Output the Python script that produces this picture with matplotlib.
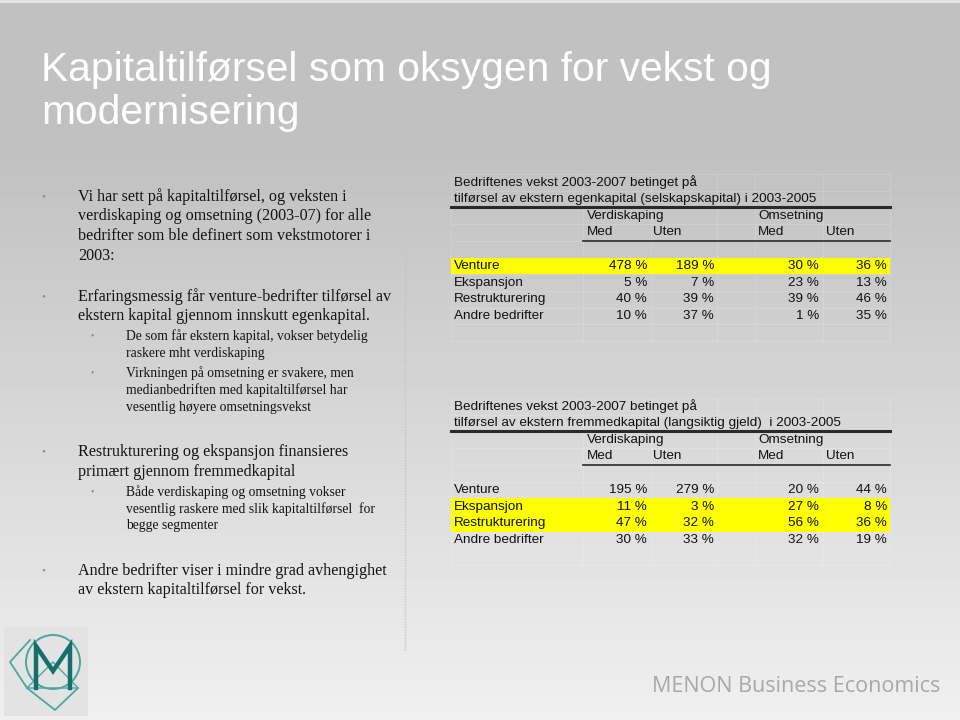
import numpy as np
import matplotlib.pyplot as plt
from matplotlib.patches import Rectangle, Circle

# slide text
title_lines = ["Kapitaltilførsel som oksygen for vekst og", "modernisering"]

bullets = [
    (0, ["Vi har sett på kapitaltilførsel, og veksten i",
         "verdiskaping og omsetning (2003-07) for alle",
         "bedrifter som ble definert som vekstmotorer i",
         "2003:"], 197),
    (0, ["Erfaringsmessig får venture-bedrifter tilførsel av",
         "ekstern kapital gjennom innskutt egenkapital."], 297),
    (1, ["De som får ekstern kapital, vokser betydelig",
         "raskere mht verdiskaping"], 336),
    (1, ["Virkningen på omsetning er svakere, men",
         "medianbedriften med kapitaltilførsel har",
         "vesentlig høyere omsetningsvekst"], 373),
    (0, ["Restrukturering og ekspansjon finansieres",
         "primært gjennom fremmedkapital"], 452),
    (1, ["Både verdiskaping og omsetning vokser",
         "vesentlig raskere med slik kapitaltilførsel  for",
         "begge segmenter"], 492),
    (0, ["Andre bedrifter viser i mindre grad avhengighet",
         "av ekstern kapitaltilførsel for vekst."], 571),
]

# table data
categories = ["Venture", "Ekspansjon", "Restrukturering", "Andre bedrifter"]

egen_title = ["Bedriftenes vekst 2003-2007 betinget på",
              "tilførsel av ekstern egenkapital (selskapskapital) i 2003-2005"]
egen_verdi_med = [478, 5, 40, 10]
egen_verdi_uten = [189, 7, 39, 37]
egen_oms_med = [30, 23, 39, 1]
egen_oms_uten = [36, 13, 46, 35]
egen_highlight = [0]

gjeld_title = ["Bedriftenes vekst 2003-2007 betinget på",
               "tilførsel av ekstern fremmedkapital (langsiktig gjeld)  i 2003-2005"]
gjeld_verdi_med = [195, 11, 47, 30]
gjeld_verdi_uten = [279, 3, 32, 33]
gjeld_oms_med = [20, 27, 56, 32]
gjeld_oms_uten = [44, 8, 36, 19]
gjeld_highlight = [1, 2]

fig = plt.figure(figsize=(9.6, 7.2), dpi=100)
ax = fig.add_axes([0, 0, 1, 1])
ax.set_xlim(0, 960)
ax.set_ylim(720, 0)
ax.axis('off')

# background gradient
g = np.concatenate([np.full(150, 0.755), np.linspace(0.755, 0.94, 570)])
ax.imshow(g[:, None], cmap='gray', vmin=0, vmax=1, extent=(0, 960, 720, 0),
          aspect='auto', zorder=0)
ax.axhline(1, color='#e8e8e8', lw=2, zorder=1)

# title
for i, line in enumerate(title_lines):
    ax.text(41, 70 + 43 * i, line, color='white', fontsize=29.3,
            family='Liberation Sans', va='center', ha='left')

# left column bullets
serif = 'Liberation Serif'
for level, lines, y0 in bullets:
    if level == 0:
        bx, tx, fs, dy = 43, 78, 11.6, 19.5
    else:
        bx, tx, fs, dy = 92, 126, 9.85, 17
    ax.text(bx, y0, "•", color='#8c8c8c', fontsize=fs * 0.7, family=serif,
            va='center', ha='center')
    for j, line in enumerate(lines):
        ax.text(tx, y0 + dy * j, line, color='#141414', fontsize=fs,
                family=serif, va='center', ha='left')

# dotted divider
ax.plot([405, 405], [215, 650], color='#c4c4c4', lw=1, ls=(0, (1, 1)), zorder=1)

# tables
col_lines = [451, 583, 651, 717, 755, 823, 890]
val_right = [647, 714, 819, 887]
rh = 16.7


def draw_table(top, title, cols, highlight):
    rows = [top + rh * (k + 0.5) for k in range(10)]
    # faint spreadsheet grid
    for k in range(11):
        ax.plot([col_lines[0], col_lines[-1]], [top + rh * k] * 2,
                color='white', alpha=0.15, lw=0.8, zorder=1)
    for x in col_lines:
        ax.plot([x, x], [top, top + rh * 10], color='white', alpha=0.15,
                lw=0.8, zorder=1)
    for k in highlight:
        y = rows[5 + k]
        ax.add_patch(Rectangle((col_lines[0], y - rh / 2), col_lines[-1] - col_lines[0],
                               rh, color='#ffff00', lw=0, zorder=2))
    ax.plot([col_lines[0], col_lines[-1]], [top + rh * 2] * 2, color='#2a2a2a',
            lw=2.2, zorder=3)
    ax.plot([col_lines[1], col_lines[-1]], [top + rh * 4] * 2, color='#2a2a2a',
            lw=1.2, zorder=3)
    kw = dict(fontsize=9.7, family='Liberation Sans', color='#111111',
              va='center', zorder=4)
    ax.text(454, rows[0], title[0], ha='left', **kw)
    ax.text(454, rows[1], title[1], ha='left', **kw)
    ax.text(587, rows[2], "Verdiskaping", ha='left', **kw)
    ax.text(758, rows[2], "Omsetning", ha='left', **kw)
    for x, lab in zip([587, 653, 758, 826], ["Med", "Uten", "Med", "Uten"]):
        ax.text(x, rows[3], lab, ha='left', **kw)
    for i, cat in enumerate(categories):
        y = rows[5 + i]
        ax.text(454, y, cat, ha='left', **kw)
        for xr, col in zip(val_right, cols):
            ax.text(xr, y, f"{col[i]} %", ha='right', **kw)


draw_table(174, egen_title,
           [egen_verdi_med, egen_verdi_uten, egen_oms_med, egen_oms_uten],
           egen_highlight)
draw_table(398, gjeld_title,
           [gjeld_verdi_med, gjeld_verdi_uten, gjeld_oms_med, gjeld_oms_uten],
           gjeld_highlight)

# logo
teal = '#4aa89c'
dark = '#15706a'
ax.add_patch(Rectangle((4, 627), 84, 89, color='#e3e3e3', lw=0, zorder=1))
ax.add_patch(Circle((53, 662), 27, fill=False, ec=teal, lw=1.4, zorder=2))
ax.plot([30, 10, 27, 55, 78], [640, 662, 688, 710, 688], color=teal, lw=1.3, zorder=2)
ax.plot([27, 78, 53, 27], [688, 688, 662, 688], color=teal, lw=1.0, zorder=2)
ax.plot([36, 36, 53, 70, 70], [688, 646, 671, 646, 688], color=dark, lw=3.2,
        solid_joinstyle='miter', zorder=3)

# footer
ax.text(940, 686, "MENON Business Economics", color='#a8a8a8', fontsize=15.5,
        family='Open Sans', ha='right', va='center')

fig.savefig('out.png', dpi=100)
